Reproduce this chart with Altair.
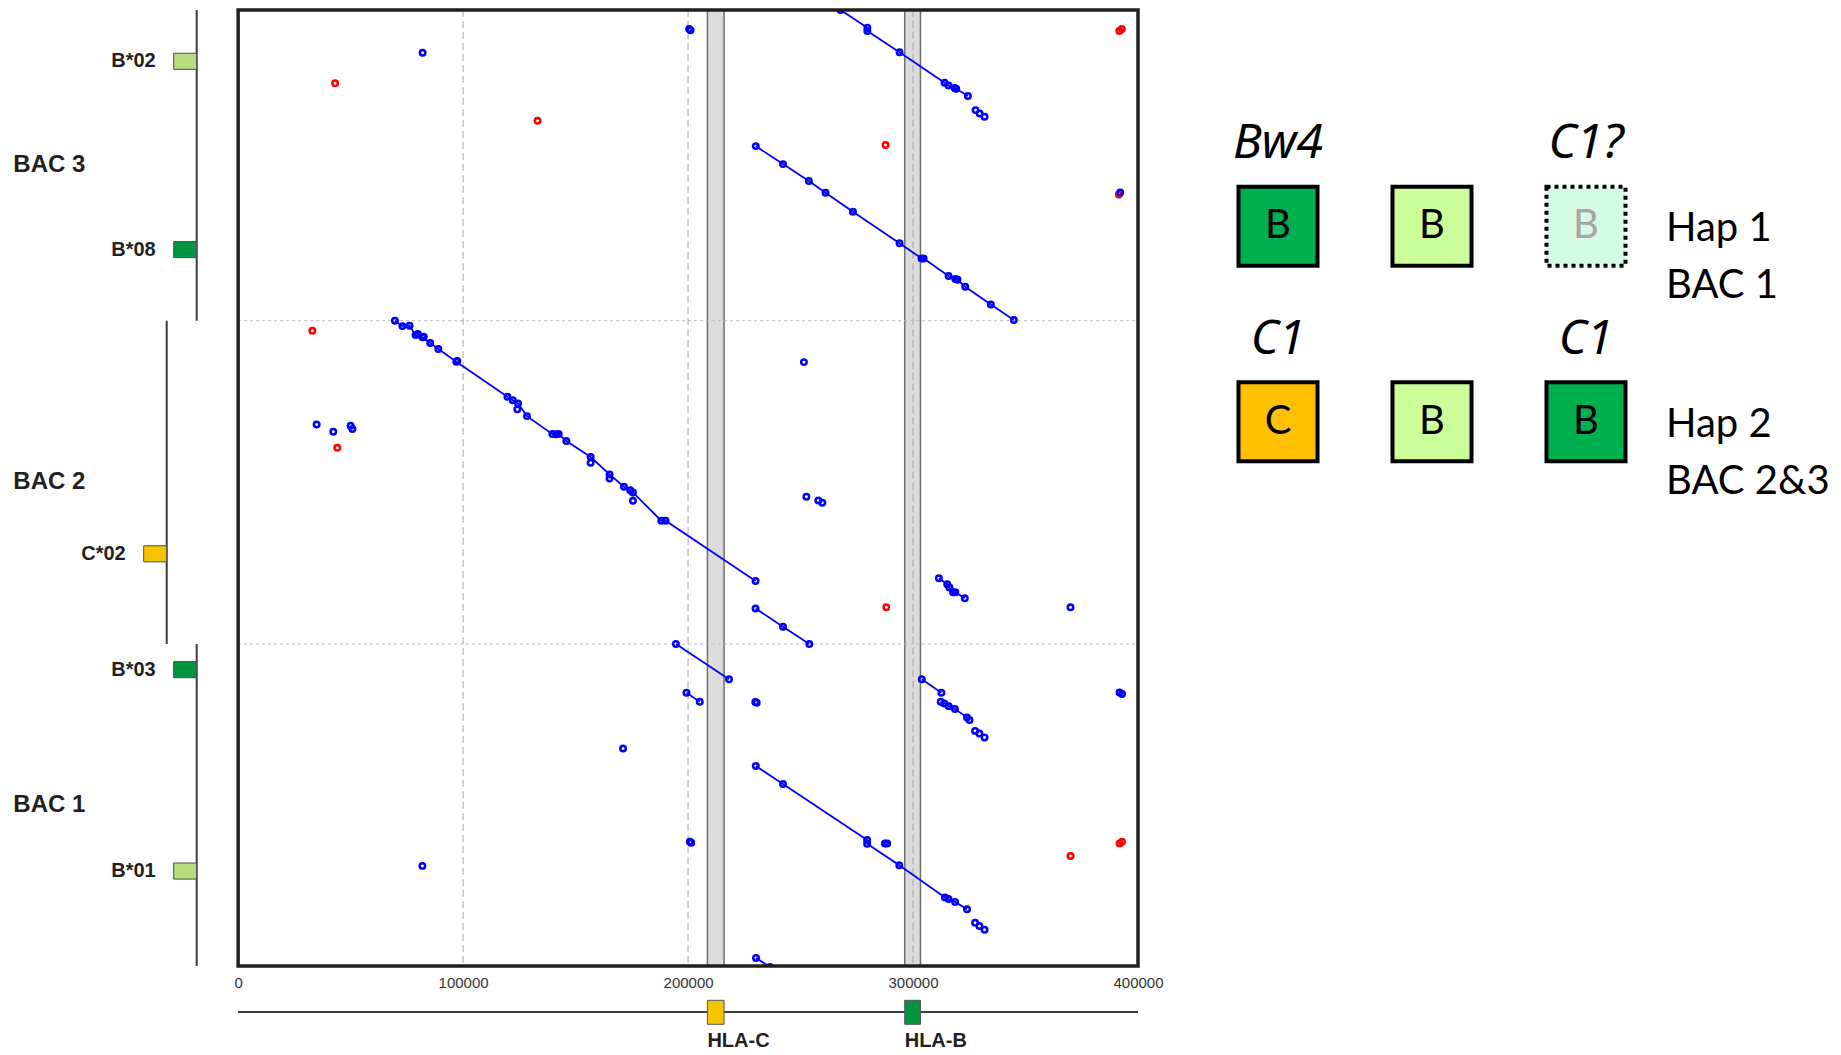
import altair as alt
import pandas as pd

# ---------------- data (positions in bp) ----------------
X_TICKS = [0, 100000, 200000, 300000, 400000]
X_GRID = [100000, 200000, 300000]

BAC_NAMES = ["BAC 3", "BAC 2", "BAC 1"]
BAC_START = [0, 138100, 281800]
BAC_END = [138100, 281800, 424900]

ALLELE_NAMES = ["B*02", "B*08", "C*02", "B*03", "B*01"]
ALLELE_BAC = ["BAC 3", "BAC 3", "BAC 2", "BAC 1", "BAC 1"]
ALLELE_POS = [22800, 106500, 241700, 293200, 382700]
ALLELE_KIND = ["B light", "B dark", "C", "B dark", "B light"]

GENE_NAMES = ["HLA-C", "HLA-B"]
GENE_START = [208600, 296300]
GENE_END = [216000, 303300]
GENE_KIND = ["C", "B dark"]

# forward alignments drawn as connected segments (x = reference, y = stacked BACs)
CHAIN_X = {
    "A": [267800, 279700, 279700, 294000, 314000, 315800, 318500, 319200, 324400],
    "B": [230100, 242200, 253700, 261100, 273300, 294000, 303800, 304700, 315800,
          318800, 319800, 323200, 334600, 344800],
    "C": [69700, 73000, 76200, 78900, 81900, 85400, 89000, 97000, 119700, 122100,
          124400, 128400, 139700, 142500, 145900, 156700, 165100, 171500, 175500,
          188100, 190000, 230000],
    "D": [311500, 315200, 316200, 317800, 318800, 323000],
    "E": [230000, 242200, 253900],
    "F": [194600, 218200],
    "G": [199300, 205200],
    "H": [303900, 312600],
    "H2": [312300, 313900, 315900, 318600, 324000, 325100],
    "I": [230100, 242200, 279600, 279600, 293900, 314200, 315800, 318700, 324000],
    "J": [230200, 236400],
}
CHAIN_Y = {
    "A": [0, 7900, 9300, 18800, 32300, 33600, 34700, 35000, 38200],
    "B": [60500, 68500, 76000, 81200, 89700, 103700, 110400, 110400, 118200,
          119600, 119900, 123000, 130900, 137800],
    "C": [138100, 140500, 140300, 144500, 145500, 148000, 150700, 156300, 171900,
          173400, 174900, 180500, 188500, 188500, 191600, 198700, 206400, 211900,
          214400, 227000, 227000, 253800],
    "D": [252600, 255200, 256700, 258800, 258800, 261500],
    "E": [266000, 274100, 281800],
    "F": [281800, 297500],
    "G": [303500, 307500],
    "H": [297500, 303500],
    "H2": [307500, 308200, 309400, 310700, 314400, 315600],
    "I": [336000, 344000, 368900, 370600, 380100, 394400, 395100, 396400, 399700],
    "J": [421300, 425300],
}

# isolated forward hits
BLUE_X = [82000, 200500, 201100, 392100, 327800, 329600, 331800,
          34900, 42300, 50000, 50800, 251500, 252600, 257900, 259700, 370000,
          79900, 82500, 97400, 124100, 141400, 156700, 165100, 174300, 175500,
          229900, 230500, 391800, 392900, 327600, 329500, 331800, 171100, 81900,
          327600, 329500, 331800, 287500, 288500, 200800, 201400]
BLUE_Y = [19000, 8400, 9000, 81100, 44500, 46000, 47400,
          184200, 187400, 184800, 186200, 156500, 216300, 218000, 219000, 265500,
          144000, 145200, 156000, 177500, 188600, 201200, 208200, 213400, 218100,
          307600, 307900, 303300, 304000, 320400, 321600, 323300, 328200, 380400,
          405700, 407100, 408800, 370500, 370500, 369700, 370100]

# reverse hits
RED_X = [43100, 133100, 391700, 392800, 287800, 391500,
         33000, 44100, 288100, 370000, 391800, 392900]
RED_Y = [32600, 49200, 9300, 8400, 60000, 82000,
         142600, 194600, 265500, 376000, 370400, 369700]

# haplotype legend
HAP_NAMES = ["Hap 1", "Hap 2"]
HAP_BACS = ["BAC 1", "BAC 2&3"]
LEG_HAP = ["Hap 1", "Hap 1", "Hap 1", "Hap 2", "Hap 2", "Hap 2"]
LEG_SLOT = [0, 1, 2, 0, 1, 2]
LEG_GENE = ["B", "B", "B", "C", "B", "B"]
LEG_KIND = ["B dark", "B light", "B uncertain", "C", "B light", "B dark"]
LEG_MOTIF = ["Bw4", "", "C1?", "C1", "", "C1"]

# ---------------- styles ----------------
TRACK_COLORS = {"B light": "#b7dd7e", "B dark": "#00953f", "C": "#f5c400"}
LEGEND_COLORS = {"B dark": "#00b050", "B light": "#ccff99",
                 "B uncertain": "#d4fbe6", "C": "#ffc000"}
TRACK_PX = {"BAC 3": 188.7, "BAC 2": 158.7, "BAC 1": 188.7}
BLUE = "#0000ff"
RED = "#ff0000"
INK = "#231f20"
FONT = "Liberation Sans"
RECT_PATH = "M-1,-0.35L0,-0.35L0,0.35L-1,0.35Z"

# ---------------- tables ----------------
bac_df = pd.DataFrame({"name": BAC_NAMES, "start": BAC_START, "end": BAC_END})
allele_df = pd.DataFrame({"name": ALLELE_NAMES, "bac": ALLELE_BAC, "pos": ALLELE_POS,
                          "kind": ALLELE_KIND})
allele_df["hex"] = allele_df["kind"].map(TRACK_COLORS)
gene_df = pd.DataFrame({"name": GENE_NAMES, "start": GENE_START, "end": GENE_END,
                        "kind": GENE_KIND})
gene_df["hex"] = gene_df["kind"].map(TRACK_COLORS)

rows = []
for cid, xs in CHAIN_X.items():
    for i, (xv, yv) in enumerate(zip(xs, CHAIN_Y[cid])):
        rows.append({"chain": cid, "i": i, "x": xv, "y": yv})
chain_df = pd.DataFrame(rows)
blue_df = pd.concat([chain_df[["x", "y"]],
                     pd.DataFrame({"x": BLUE_X, "y": BLUE_Y})], ignore_index=True)
red_df = pd.DataFrame({"x": RED_X, "y": RED_Y})
one_df = pd.DataFrame({"k": [0]})

XMAX = X_TICKS[-1]
YMAX = BAC_END[-1]
XS = alt.Scale(domain=[-102300, XMAX], nice=False, zero=False)
YS = alt.Scale(domain=[0, YMAX], nice=False, zero=False, reverse=True)
AX = alt.Axis(values=X_TICKS, format="d", labelFontSize=15, labelFont=FONT,
              labelColor="#333333", ticks=False, tickSize=0, domain=False,
              grid=False, title=None, labelPadding=9, labelFlush=False,
              labelOverlap=False)

layers = []

# grey bands over the HLA genes
layers.append(alt.Chart(gene_df).mark_rect(fill="#dcdcdc", stroke="#6f6f6f", strokeWidth=1.5).encode(
    x=alt.X("start:Q", scale=XS, axis=AX), x2=alt.X2("end:Q"),
    y=alt.YDatum(0, scale=YS, axis=None), y2=alt.Y2Datum(YMAX)))

# dashed vertical grid
layers.append(alt.Chart(pd.DataFrame({"x": X_GRID})).mark_rule(
    color="#a6a6a6", strokeDash=[7, 4], strokeWidth=1).encode(
    x=alt.X("x:Q", scale=XS, axis=AX),
    y=alt.YDatum(0, scale=YS, axis=None), y2=alt.Y2Datum(YMAX)))

# dotted BAC boundaries
layers.append(alt.Chart(bac_df).transform_filter("datum.start > 0").mark_rule(
    color="#b8b8b8", strokeDash=[3, 3], strokeWidth=1).encode(
    y=alt.Y("start:Q", scale=YS, axis=None),
    x=alt.XDatum(0, scale=XS, axis=AX), x2=alt.X2Datum(XMAX)))

# alignment segments
layers.append(alt.Chart(chain_df).mark_line(color=BLUE, strokeWidth=1.8, clip=True).encode(
    x=alt.X("x:Q", scale=XS, axis=AX), y=alt.Y("y:Q", scale=YS, axis=None),
    detail="chain:N", order="i:Q"))

# hits
layers.append(alt.Chart(red_df).mark_point(shape="circle", size=30, filled=False, strokeWidth=2.5,
                                           color=RED, opacity=1, clip=True).encode(
    x=alt.X("x:Q", scale=XS, axis=AX), y=alt.Y("y:Q", scale=YS, axis=None)))
layers.append(alt.Chart(blue_df).mark_point(shape="circle", size=30, filled=False, strokeWidth=2.5,
                                            color=BLUE, opacity=1, clip=True).encode(
    x=alt.X("x:Q", scale=XS, axis=AX), y=alt.Y("y:Q", scale=YS, axis=None)))

# frame
layers.append(alt.Chart(one_df).mark_rect(fillOpacity=0, stroke=INK, strokeWidth=3.5).encode(
    x=alt.XDatum(0, scale=XS, axis=AX), x2=alt.X2Datum(XMAX),
    y=alt.YDatum(0, scale=YS, axis=None), y2=alt.Y2Datum(YMAX)))

# left BAC tracks
for bac in BAC_NAMES:
    px = TRACK_PX[bac]
    layers.append(alt.Chart(bac_df).transform_filter(alt.datum.name == bac).mark_rule(
        color="#3c3c3c", strokeWidth=2).encode(
        x=alt.value(px), y=alt.Y("start:Q", scale=YS, axis=None), y2=alt.Y2("end:Q")))
    layers.append(alt.Chart(allele_df).transform_filter(alt.datum.bac == bac).mark_point(
        shape=RECT_PATH, size=2116, filled=True, opacity=1, stroke="#4d4d4d", strokeWidth=1).encode(
        x=alt.value(px), y=alt.Y("pos:Q", scale=YS, axis=None),
        fill=alt.Fill("hex:N", scale=None)))
    layers.append(alt.Chart(allele_df).transform_filter(alt.datum.bac == bac).mark_text(
        align="right", baseline="middle", fontSize=20, fontWeight="bold", font=FONT, color=INK).encode(
        x=alt.value(px - 41), y=alt.Y("pos:Q", scale=YS, axis=None), text="name:N"))

layers.append(alt.Chart(bac_df).transform_calculate(mid="(datum.start + datum.end) / 2").mark_text(
    align="left", baseline="middle", fontSize=24, fontWeight="bold", font=FONT, color=INK).encode(
    x=alt.value(5.3), y=alt.Y("mid:Q", scale=YS, axis=None), text="name:N"))

# gene track below the plot
layers.append(alt.Chart(one_df).mark_rule(color="#3c3c3c", strokeWidth=2).encode(
    x=alt.XDatum(0, scale=XS, axis=AX), x2=alt.X2Datum(XMAX), y=alt.value(1002)))
layers.append(alt.Chart(gene_df).mark_rect(stroke="#555555", strokeWidth=1).encode(
    x=alt.X("start:Q", scale=XS, axis=AX), x2=alt.X2("end:Q"),
    y=alt.value(990.3), y2=alt.value(1014.3), fill=alt.Fill("hex:N", scale=None)))
layers.append(alt.Chart(gene_df).mark_text(
    align="left", baseline="alphabetic", fontSize=20, fontWeight="bold", font=FONT, color=INK).encode(
    x=alt.X("start:Q", scale=XS, axis=AX), y=alt.value(1037), text="name:N"))

main = alt.layer(*layers).properties(width=1130, height=956)

# ---------------- haplotype legend ----------------
leg_df = pd.DataFrame({"hap": LEG_HAP, "slot": LEG_SLOT, "gene": LEG_GENE,
                       "kind": LEG_KIND, "motif": LEG_MOTIF})
leg_df["row"] = leg_df["hap"].map({h: i for i, h in enumerate(HAP_NAMES)})
leg_df["hex"] = leg_df["kind"].map(LEGEND_COLORS)
leg_df["tentative"] = leg_df["kind"] == "B uncertain"
leg_df["ink"] = leg_df["tentative"].map({True: "#a6a6a6", False: "#000000"})
hap_df = pd.DataFrame({"name": HAP_NAMES, "bacs": HAP_BACS, "row": list(range(len(HAP_NAMES)))})

LX = alt.Scale(domain=[-0.5, 2.5], nice=False, zero=False)
LY = alt.Scale(domain=[-1.106, 1.963], nice=False, zero=False, reverse=True)
lx = alt.X("slot:Q", scale=LX, axis=None)
ly = alt.Y("row:Q", scale=LY, axis=None)

leg_layers = [
    alt.Chart(leg_df).transform_filter("!datum.tentative").mark_point(
        shape="square", size=6241, filled=True, opacity=1, stroke="#000000", strokeWidth=4).encode(
        x=lx, y=ly, fill=alt.Fill("hex:N", scale=None)),
    alt.Chart(leg_df).transform_filter("datum.tentative").mark_point(
        shape="square", size=6241, filled=True, opacity=1, stroke="#000000", strokeWidth=4,
        strokeDash=[4, 4]).encode(
        x=lx, y=ly, fill=alt.Fill("hex:N", scale=None)),
    alt.Chart(leg_df).mark_text(fontSize=40, font="Lato", align="center", baseline="middle").encode(
        x=lx, y=ly, text="gene:N", color=alt.Color("ink:N", scale=None)),
    alt.Chart(leg_df).transform_filter("datum.motif != ''").mark_text(
        fontSize=48, font="Noto Sans", fontStyle="italic", align="center", baseline="alphabetic",
        dy=-68, color="#000000").encode(x=lx, y=ly, text="motif:N"),
    alt.Chart(hap_df).mark_text(fontSize=40, font="Lato", align="left", baseline="alphabetic",
                                dx=3, dy=15, color="#000000").encode(
        x=alt.XDatum(2.5, scale=LX, axis=None), y=ly, text="name:N"),
    alt.Chart(hap_df).mark_text(fontSize=40, font="Lato", align="left", baseline="alphabetic",
                                dx=3, dy=72, color="#000000").encode(
        x=alt.XDatum(2.5, scale=LX, axis=None), y=ly, text="bacs:N"),
]
legend = alt.layer(*leg_layers).properties(width=462, height=600)

chart = alt.hconcat(main, legend, spacing=63, bounds="flush").properties(
    padding=0,
    background="white",
).configure_view(strokeWidth=0)

chart.save("out.html", embed_options={"renderer": "svg", "actions": False})
